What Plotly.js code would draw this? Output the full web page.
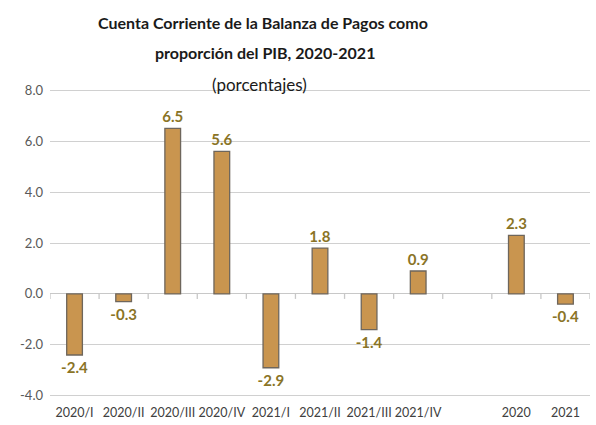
<!DOCTYPE html>
<html><head><meta charset="utf-8">
<script src="https://cdn.plot.ly/plotly-3.0.1.min.js"></script>
<style>body{margin:0;padding:0;background:#fff}#c{width:596px;height:425px}</style>
</head><body><div id="c"></div>
<script>
var categories = ["2020/I","2020/II","2020/III","2020/IV","2021/I","2021/II","2021/III","2021/IV","","2020","2021"];
var values = [-2.4,-0.3,6.5,5.6,-2.9,1.8,-1.4,0.9,null,2.3,-0.4];
var labels = values.map(function(v){return v===null?"":v.toFixed(1);});
var xs = categories.map(function(c,i){return i;});
var ytickvals = [-4,-2,0,2,4,6,8];
var yticktext = ytickvals.map(function(v){return v.toFixed(1);});

var trace = {
  type:'bar', x:xs, y:values, text:labels, textposition:'outside',
  texttemplate:'<b>%{text}</b>', constraintext:'none',
  textfont:{family:'Lato', size:15, color:'#8a7426'},
  marker:{color:'#c9954f', line:{color:'#6e665c', width:1.3}},
  width:0.32
};

var shapes = [];
for (var i=0;i<=categories.length;i++) {
  shapes.push({type:'line', xref:'x', yref:'y', x0:i-0.5, x1:i-0.5, ysizemode:'pixel', yanchor:0, y0:0, y1:-5,
               layer:'above', line:{color:'#c8c8c8', width:1.3}});
}

var layout = {
  width:596, height:425,
  margin:{l:50, r:6, t:89, b:28},
  shapes:shapes,
  xaxis:{range:[-0.5,10.5], tickvals:xs, ticktext:categories, showgrid:false, zeroline:false,
         ticklabelstandoff:6, tickfont:{family:'Lato', size:12.5, color:'#404040'}},
  yaxis:{range:[-4.05,8.05], tickvals:ytickvals, ticktext:yticktext, showgrid:true, gridcolor:'#d0d0d0',
         gridwidth:1.3, zeroline:true, zerolinecolor:'#c8c8c8', zerolinewidth:1.3,
         ticklabelstandoff:6, tickfont:{family:'Lato', size:13, color:'#595959'}},
  annotations:[
    {text:'<b>Cuenta Corriente de la Balanza de Pagos como</b>', xref:'paper', yref:'paper',
     x:(263-50)/540, y:1, yshift:67, xanchor:'center', yanchor:'middle', showarrow:false,
     font:{family:'Lato', size:16, color:'#1a1a1a'}},
    {text:'<b>proporción del PIB, 2020-2021</b>', xref:'paper', yref:'paper',
     x:(265-50)/540, y:1, yshift:37, xanchor:'center', yanchor:'middle', showarrow:false,
     font:{family:'Lato', size:16, color:'#1a1a1a'}},
    {text:'(porcentajes)', xref:'paper', yref:'paper',
     x:(259-50)/540, y:1, yshift:5, xanchor:'center', yanchor:'middle', showarrow:false,
     font:{family:'Lato', size:17, color:'#1a1a1a'}}
  ]
};
Plotly.newPlot('c',[trace],layout,{displayModeBar:false});
</script></body></html>
